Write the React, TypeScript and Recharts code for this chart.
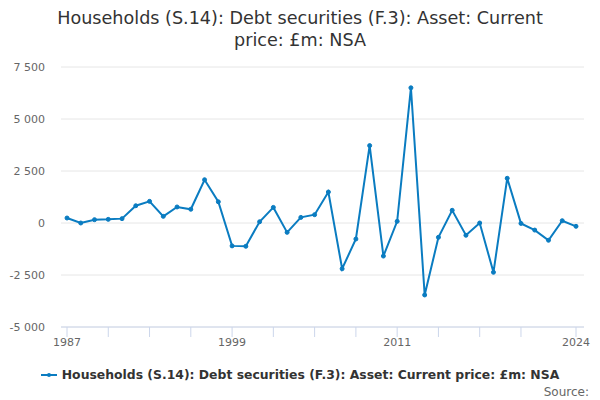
import { CartesianGrid, Line, LineChart, XAxis, YAxis } from "recharts";

const title = "Households (S.14): Debt securities (F.3): Asset: Current price: £m: NSA";

const years = [
  1987, 1988, 1989, 1990, 1991, 1992, 1993, 1994, 1995, 1996, 1997, 1998, 1999,
  2000, 2001, 2002, 2003, 2004, 2005, 2006, 2007, 2008, 2009, 2010, 2011, 2012,
  2013, 2014, 2015, 2016, 2017, 2018, 2019, 2020, 2021, 2022, 2023, 2024,
];

const values = [
  240, 0, 160, 175, 210, 830, 1040, 320, 770, 660, 2080, 1020, -1100,
  -1120, 60, 750, -450, 270, 400, 1490, -2200, -770, 3720, -1590, 80, 6500,
  -3460, -690, 610, -590, 0, -2370, 2150, -20, -340, -830, 110, -160,
];

const xTicks = [1987, 1990, 1993, 1996, 1999, 2002, 2005, 2008, 2011, 2014, 2017, 2020, 2024];
const xLabels = [1987, 1999, 2011, 2024];
const yTicks = [-5000, -2500, 0, 2500, 5000, 7500];

const data = years.map((year, i) => ({ year, value: values[i] }));

const color = "#0a7cc1";
const font = "'DejaVu Sans', sans-serif";

const fmt = (v: number) => {
  const s = Math.abs(v).toString().replace(/\B(?=(\d{3})+(?!\d))/g, " ");
  return v < 0 ? `-${s}` : s;
};

export default function App() {
  return (
    <div style={{ position: "absolute", left: 0, top: 0, width: 600, height: 400, fontFamily: font }}>
      <div
        style={{
          position: "absolute",
          left: 40,
          top: 7,
          width: 520,
          textAlign: "center",
          fontSize: 17.6,
          lineHeight: "22px",
          color: "#333333",
        }}
      >
        {title}
      </div>
      <LineChart
        width={600}
        height={400}
        data={data}
        margin={{ top: 67, right: 16, left: 0, bottom: 48 }}
      >
        <CartesianGrid vertical={false} stroke="#e6e6e6" />
        <XAxis
          dataKey="year"
          type="number"
          domain={[1987, 2024]}
          ticks={xTicks}
          interval={0}
          padding={{ left: 6, right: 8 }}
          height={25}
          stroke="#ccd6eb"
          tickSize={10}
          tickMargin={1}
          tick={{ fill: "#666666", fontSize: 11, fontFamily: font }}
          tickFormatter={(v: number) => (xLabels.includes(v) ? String(v) : "")}
        />
        <YAxis
          domain={[-5000, 7500]}
          ticks={yTicks}
          width={61}
          axisLine={false}
          tickLine={false}
          tickMargin={10}
          tick={{ fill: "#666666", fontSize: 11, fontFamily: font }}
          tickFormatter={fmt}
        />
        <Line
          type="linear"
          dataKey="value"
          stroke={color}
          strokeWidth={2}
          dot={{ r: 2, fill: color, stroke: color, strokeWidth: 1 }}
          isAnimationActive={false}
        />
      </LineChart>
      <div
        style={{
          position: "absolute",
          left: 0,
          top: 367,
          width: 600,
          display: "flex",
          justifyContent: "center",
          alignItems: "center",
          fontSize: 12.4,
          fontWeight: "bold",
          color: "#333333",
        }}
      >
        <svg width={16} height={12} style={{ marginRight: 5 }}>
          <line x1={0} y1={6} x2={16} y2={6} stroke={color} strokeWidth={2} />
          <circle cx={8} cy={6} r={2} fill={color} />
        </svg>
        <span>{title}</span>
      </div>
      <div
        style={{
          position: "absolute",
          right: 11,
          top: 385,
          fontSize: 12,
          color: "#666666",
        }}
      >
        Source:
      </div>
    </div>
  );
}
